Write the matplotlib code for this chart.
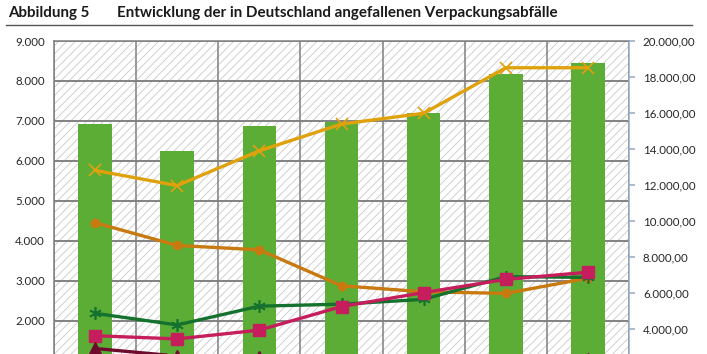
import matplotlib
matplotlib.use("Agg")
import matplotlib.pyplot as plt
from matplotlib.patches import Rectangle
from matplotlib.ticker import FuncFormatter, FixedLocator
import numpy as np

plt.rcParams['font.family'] = ['Lato', 'DejaVu Sans']
plt.rcParams['hatch.linewidth'] = 0.6

# ---- data ----
categories = ['1991', '1995', '2000', '2005', '2010', '2016', '2019']
total_waste = [15380, 13880, 15250, 15490, 16010, 18150, 18790]   # bars, right axis
paper = [5760, 5380, 6250, 6920, 7190, 8330, 8330]                 # yellow, x
glass = [4450, 3880, 3770, 2870, 2720, 2680, 3060]                 # orange, circle
plastics = [2180, 1890, 2360, 2410, 2530, 3100, 3080]              # dark green, star
wood = [1620, 1540, 1760, 2350, 2700, 3030, 3210]                  # magenta, square
metals = [1300, 1110, 1090, 1000, 980, 1010, 1040]                 # maroon, triangle

left_max, left_step = 9000, 1000
left_labels = [2000, 3000, 4000, 5000, 6000, 7000, 8000, 9000]
right_max = 20000
right_labels = [4000, 6000, 8000, 10000, 12000, 14000, 16000, 18000, 20000]

W, H = 707, 354
fig = plt.figure(figsize=(W / 100, H / 100), dpi=100)

left_px, right_px, top_px, bottom_px = 54, 629, 41, 400.4
ax = fig.add_axes([left_px / W, (H - bottom_px) / H,
                   (right_px - left_px) / W, (bottom_px - top_px) / H])

x = np.arange(len(categories))

# base axis: background + grid + left labels
ax.set_xlim(-0.5, len(categories) - 0.5)
ax.set_ylim(0, left_max)
ax.patch.set_facecolor('white')
ax.add_patch(Rectangle((0, 0), 1, 1, transform=ax.transAxes, facecolor='white',
                       edgecolor='#c8c8c8', hatch='////', lw=0, zorder=0))
ax.yaxis.set_major_locator(FixedLocator(left_labels))
ax.yaxis.set_major_formatter(FuncFormatter(lambda v, p: f"{int(v):,}".replace(',', '.')))
ax.set_xticks([])
ax.xaxis.set_minor_locator(FixedLocator(np.arange(len(categories) + 1) - 0.5))
ax.grid(True, axis='y', which='major', color='#7f7f7f', lw=1.1, zorder=1)
for gy in range(0, left_max, left_step):
    ax.axhline(gy, color='#7f7f7f', lw=1.1, zorder=1)
ax.grid(True, axis='x', which='minor', color='#7f7f7f', lw=1.1, zorder=1)
ax.tick_params(axis='y', length=0, pad=6.5, labelsize=8.3, labelcolor='#262626')
ax.tick_params(axis='x', which='both', length=0, labelbottom=False)
ax.set_axisbelow(True)
for s in ['left', 'top', 'bottom']:
    ax.spines[s].set_color('#7f7f7f')
    ax.spines[s].set_linewidth(1.1)
ax.spines['right'].set_visible(False)

# bar axis (right)
axb = ax.twinx()
axb.set_ylim(0, right_max)
axb.bar(x, total_waste, width=0.41, color='#5cad35', zorder=2)
axb.yaxis.set_major_locator(FixedLocator(right_labels))
axb.yaxis.set_major_formatter(FuncFormatter(
    lambda v, p: f"{v:,.2f}".replace(',', 'X').replace('.', ',').replace('X', '.')))
axb.tick_params(axis='y', length=4, width=1.1, color='#93a9c4', pad=6,
                labelsize=8.3, labelcolor='#262626')
axb.spines['right'].set_color('#93a9c4')
axb.spines['right'].set_linewidth(1.1)
for s in ['left', 'top', 'bottom']:
    axb.spines[s].set_visible(False)

# line axis (left scale)
axl = ax.twinx()
axl.set_ylim(0, left_max)
axl.set_yticks([])
for s in axl.spines.values():
    s.set_visible(False)

lw = 2.4
axl.plot(x, paper, color='#e0a20c', lw=lw, marker='x', ms=8, mew=1.2, zorder=3)
axl.plot(x, glass, color='#c87a10', lw=lw, marker='o', ms=6, zorder=3)
axl.plot(x, plastics, color='#14722e', lw=lw, marker=(6, 2, 0), ms=9, mew=1.2, zorder=3)
axl.plot(x, wood, color='#c61e5c', lw=lw, marker='s', ms=8, zorder=3)
axl.plot(x, metals, color='#6e0b2c', lw=lw, marker='^', ms=9, zorder=3)

# title
fig.text(8 / W, 1 - 13 / H, 'Abbildung 5', fontsize=10.9, fontweight='bold',
         color='#1a1a1a', ha='left', va='center')
fig.text(117 / W, 1 - 13 / H,
         'Entwicklung der in Deutschland angefallenen Verpackungsabfälle',
         fontsize=10.9, fontweight='bold', color='#1a1a1a', ha='left', va='center')
fig.add_artist(plt.Line2D([6 / W, 692 / W], [1 - 25 / H, 1 - 25 / H],
                          transform=fig.transFigure, color='#555555', lw=1.0))

fig.savefig('out.png', dpi=100)
